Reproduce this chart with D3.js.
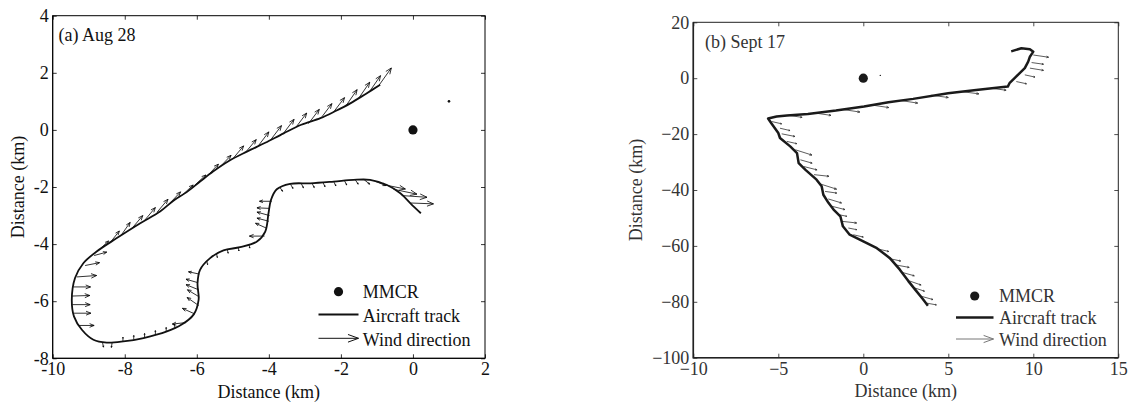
<!DOCTYPE html>
<html>
<head>
<meta charset="utf-8">
<script src="https://cdn.jsdelivr.net/npm/d3@7"></script>
<style>
  body { margin: 0; background: #fff; }
  svg text { font-family: "Liberation Serif", "Times New Roman", Times, "DejaVu Serif", serif; }
</style>
</head>
<body>
<svg id="chart" width="1130" height="407"></svg>
<script>
// ---- data (km, relative to the MMCR site) ----

// (a) Aug 28 aircraft track
var trackA = [[-0.91,1.58],[-1.3,1.27],[-1.74,0.93],[-2.15,0.66],[-2.57,0.41],[-3.1,0.18],[-3.59,-0.12],
  [-4.1,-0.45],[-4.61,-0.76],[-5.1,-1.08],[-5.54,-1.45],[-5.9,-1.8],[-6.28,-2.18],[-6.65,-2.48],
  [-7.02,-2.86],[-7.57,-3.27],[-8.22,-3.79],[-8.78,-4.26],[-9.15,-4.67],[-9.38,-5.19],[-9.47,-5.95],
  [-9.41,-6.53],[-9.19,-7.0],[-8.87,-7.35],[-8.5,-7.45],[-8.04,-7.41],[-7.48,-7.29],[-6.83,-7.06],
  [-6.42,-6.82],[-6.09,-6.47],[-5.95,-5.95],[-5.98,-5.37],[-5.91,-4.9],[-5.63,-4.49],[-5.26,-4.22],
  [-4.8,-4.11],[-4.33,-3.91],[-4.1,-3.56],[-4.01,-2.92],[-3.94,-2.45],[-3.78,-2.08],[-3.41,-1.89],
  [-2.85,-1.87],[-2.2,-1.81],[-1.65,-1.75],[-1.19,-1.75],[-0.72,-1.93],[-0.35,-2.22],[-0.07,-2.57],[0.22,-2.92]];

// (a) wind vectors: x, y, u, v
var windA = [[-0.95,1.55,0.35,0.62],[-1.2,1.35,0.3,0.55],[-1.5,1.12,0.3,0.55],[-1.85,0.86,0.3,0.55],
  [-2.2,0.63,0.3,0.5],[-2.55,0.42,0.3,0.5],[-2.9,0.22,0.3,0.5],[-3.25,0.09,0.3,0.5],[-3.6,-0.13,0.3,0.5],
  [-3.95,-0.35,0.3,0.5],[-4.3,-0.57,0.3,0.5],[-4.65,-0.79,0.3,0.45],[-5.0,-1.01,0.3,0.45],[-5.35,-1.29,0.3,0.4],
  [-5.7,-1.6,0.3,0.4],[-6.05,-1.93,0.3,0.35],[-6.4,-2.28,0.3,0.35],[-6.75,-2.57,0.3,0.4],[-7.1,-2.88,0.3,0.45],
  [-7.45,-3.17,0.3,0.45],[-7.8,-3.45,0.3,0.45],[-8.1,-3.69,0.25,0.45],[-8.4,-3.94,0.25,0.4],[-8.7,-4.19,0.25,0.3],
  [-8.85,-4.4,0.35,0.12],[-9.1,-4.75,0.4,0.1],[-9.33,-5.15,0.55,0.05],[-9.43,-5.5,0.48,0.0],[-9.47,-5.82,0.5,0.02],
  [-9.46,-6.12,0.5,0.0],[-9.42,-6.42,0.48,0.0],[-9.3,-6.85,0.45,0.0],
  [-8.62,-7.43,0.03,-0.18],[-8.35,-7.44,-0.02,-0.18],[-8.05,-7.41,0.0,0.15],[-7.75,-7.35,0.0,0.15],
  [-7.45,-7.28,0.0,0.15],[-7.15,-7.18,0.0,0.15],[-6.85,-7.07,0.0,0.15],[-6.6,-6.95,-0.03,0.15],
  [-6.3,-6.75,-0.38,-0.05],[-6.05,-6.45,-0.35,0.2],[-5.95,-6.15,-0.32,0.28],[-5.93,-5.85,-0.33,0.25],
  [-5.95,-5.6,-0.35,0.18],[-5.97,-5.35,-0.33,0.12],[-5.93,-5.05,-0.3,0.08],
  [-5.72,-4.6,0.02,-0.12],[-5.45,-4.35,0.02,-0.12],[-5.15,-4.2,0.02,-0.12],[-4.85,-4.12,0.02,-0.12],[-4.55,-4.02,0.02,-0.12],
  [-4.12,-3.72,-0.42,0.0],[-4.05,-3.45,-0.32,0.18],[-4.0,-3.2,-0.33,0.11],[-3.98,-3.0,-0.35,0.12],
  [-3.97,-2.75,-0.36,0.02],[-3.92,-2.5,-0.34,0.0],
  [-3.7,-2.0,0.08,-0.15],[-3.4,-1.9,0.07,-0.15],[-3.1,-1.88,0.06,-0.15],[-2.8,-1.87,0.06,-0.15],
  [-2.5,-1.84,0.06,-0.15],[-2.2,-1.81,0.06,-0.15],[-1.9,-1.78,0.06,-0.15],[-1.6,-1.75,0.08,-0.15],
  [-1.35,-1.75,0.15,-0.15],[-1.05,-1.8,0.3,-0.15],[-0.81,-1.92,0.6,-0.15],[-0.54,-2.08,0.65,-0.17],
  [-0.31,-2.3,0.7,-0.06],[-0.07,-2.56,0.64,-0.03]];

// (b) Sept 17 aircraft track
var trackB = [[8.7,9.6],[9.3,10.7],[9.8,10.4],[10.0,9.5],[9.8,7.7],[9.7,5.9],[9.5,3.6],[9.2,1.8],[8.9,0.0],
  [8.6,-1.8],[8.5,-3.0],[6.64,-4.18],[4.99,-5.37],[2.93,-7.4],[1.48,-8.59],[0.04,-10.14],[-1.61,-11.58],
  [-3.26,-12.77],[-4.49,-13.37],[-5.1,-13.7],[-5.6,-14.4],[-5.4,-16.2],[-5.0,-19.6],[-4.9,-21.4],[-4.3,-24.4],
  [-3.9,-26.8],[-3.8,-30.4],[-3.4,-32.8],[-2.75,-36.3],[-2.45,-38.7],[-2.35,-41.7],[-2.05,-44.6],[-1.75,-47.0],
  [-1.35,-49.4],[-1.2,-53.0],[-0.8,-56.0],[0.0,-58.4],[0.8,-60.8],[1.55,-64.3],[2.15,-68.5],[2.65,-72.6],
  [3.1,-76.0],[3.5,-79.0],[3.8,-81.4]];

// (b) wind vectors: x, y, u, v
var windB = [[10.0,8.3,0.9,-0.8],[9.9,5.6,0.7,-0.6],[9.8,3.6,0.8,-0.8],[9.5,1.2,0.6,-0.8],[9.0,-1.2,0.6,-0.8],
  [7.5,-3.6,0.9,-0.7],[5.8,-4.8,1.0,-0.8],[4.0,-6.1,1.0,-0.8],[2.2,-8.0,1.0,-0.9],[0.5,-9.6,1.0,-0.9],
  [-1.2,-11.2,1.0,-0.9],[-2.8,-12.5,0.9,-0.8],[-4.4,-13.3,0.8,-0.7],
  [-5.39,-15.5,0.59,-0.83],[-4.9,-17.9,0.59,-0.83],[-4.8,-19.9,0.78,-0.95],[-4.5,-22.6,0.59,-0.83],
  [-4.0,-25.6,0.98,-1.9],[-3.7,-29.2,0.69,-1.2],[-3.5,-31.6,0.78,-1.2],[-2.9,-34.5,0.88,-0.6],
  [-2.55,-37.8,0.98,-1.9],[-2.25,-40.5,0.69,-0.6],[-2.06,-43.2,0.78,-1.43],[-1.86,-45.8,0.78,-1.2],
  [-1.47,-48.8,0.5,-0.6],[-1.27,-51.2,0.88,-0.6],[-0.88,-53.6,0.5,-0.6],[-0.59,-56.0,0.59,-0.83],
  [0.8,-61.0,0.7,-1.0],[1.5,-64.5,0.7,-0.9],[1.9,-66.8,0.8,-0.9],[2.3,-69.5,0.7,-1.2],
  [2.7,-72.5,0.7,-1.5],[3.0,-75.0,0.6,-1.2],[3.4,-78.0,0.7,-1.2],[3.75,-80.5,0.55,-0.6]];

var mmcrSite = [0, 0];
var strayPoint = [1, 1];

var ticksAx = [-10, -8, -6, -4, -2, 0, 2];
var ticksAy = [-8, -6, -4, -2, 0, 2, 4];
var ticksBx = [-10, -5, 0, 5, 10, 15];
var ticksBy = [-100, -80, -60, -40, -20, 0, 20];

var legendLabels = ["MMCR", "Aircraft track", "Wind direction"];

var serif = '"Liberation Serif", "Times New Roman", Times, "DejaVu Serif", serif';

// ---- drawing ----
var svg = d3.select("#chart").attr("font-family", serif);

function arrowPath(x0, y0, x1, y1, frac, ang) {
	var p = d3.path();
	var dx = x1 - x0, dy = y1 - y0, L = Math.hypot(dx, dy);
	p.moveTo(x0, y0);
	p.lineTo(x1, y1);
	if (L > 0.5) {
		var h = L * frac, a = Math.atan2(dy, dx), t = ang * Math.PI / 180;
		p.moveTo(x1 - h * Math.cos(a - t), y1 - h * Math.sin(a - t));
		p.lineTo(x1, y1);
		p.lineTo(x1 - h * Math.cos(a + t), y1 - h * Math.sin(a + t));
	}
	return p.toString();
}

function drawPanel(o) {
	var x = d3.scaleLinear().domain(o.xDomain).range(o.xRange);
	var y = d3.scaleLinear().domain(o.yDomain).range(o.yRange);
	var g = svg.append("g");
	var fmt = o.fmt;

	// inward ticks on all four sides
	g.append("g").attr("transform", "translate(0," + o.yRange[0] + ")")
		.call(d3.axisBottom(x).tickValues(o.xTicks).tickSize(-4).tickPadding(o.xPad).tickFormat(fmt));
	g.append("g").attr("transform", "translate(" + o.xRange[0] + ",0)")
		.call(d3.axisLeft(y).tickValues(o.yTicks).tickSize(-4).tickPadding(4).tickFormat(fmt));
	g.append("g").attr("transform", "translate(0," + o.yRange[1] + ")")
		.call(d3.axisTop(x).tickValues(o.xTicks).tickSize(-4).tickFormat(""));
	g.append("g").attr("transform", "translate(" + o.xRange[1] + ",0)")
		.call(d3.axisRight(y).tickValues(o.yTicks).tickSize(-4).tickFormat(""));
	g.selectAll(".domain").remove();
	g.selectAll("g").attr("font-family", serif).attr("font-size", 18);
	g.selectAll(".tick line").attr("stroke", o.ink).attr("stroke-width", 0.8);
	g.selectAll(".tick text").attr("fill", o.textColor);

	// frame
	g.append("rect").attr("x", o.xRange[0]).attr("y", o.yRange[1])
		.attr("width", o.xRange[1] - o.xRange[0]).attr("height", o.yRange[0] - o.yRange[1])
		.attr("fill", "none").attr("stroke", o.ink).attr("stroke-width", 1);
	g.append("path")
		.attr("d", "M" + o.xRange[0] + "," + o.yRange[1] + "V" + o.yRange[0] + "H" + o.xRange[1])
		.attr("fill", "none").attr("stroke", o.ink).attr("stroke-width", o.frameW);

	// wind vectors
	g.append("g").selectAll("path").data(o.wind).join("path")
		.attr("d", function(d) {
			return arrowPath(x(d[0]), y(d[1]), x(d[0] + d[2]), y(d[1] + d[3]), o.headFrac, 22);
		})
		.attr("fill", "none").attr("stroke", o.windColor).attr("stroke-width", 0.8);

	// aircraft track
	g.append("path").datum(o.track)
		.attr("d", d3.line().x(function(d) { return x(d[0]); }).y(function(d) { return y(d[1]); }).curve(o.curve))
		.attr("fill", "none").attr("stroke", o.trackColor).attr("stroke-width", o.trackW)
		.attr("stroke-linejoin", "round");

	// MMCR and the stray point
	g.append("circle").attr("cx", x(mmcrSite[0])).attr("cy", y(mmcrSite[1])).attr("r", 4.6).attr("fill", o.trackColor);
	g.append("circle").attr("cx", x(strayPoint[0])).attr("cy", y(strayPoint[1])).attr("r", o.strayR).attr("fill", o.trackColor);

	// texts
	g.append("text").attr("x", o.titleX).attr("y", o.titleY).attr("fill", o.textColor)
		.attr("font-size", 18).text(o.title);
	g.append("text").attr("x", (o.xRange[0] + o.xRange[1]) / 2).attr("y", o.xLabelY)
		.attr("text-anchor", "middle").attr("fill", o.textColor).attr("font-size", 18).text("Distance (km)");
	g.append("text").attr("transform", "translate(" + o.yLabelX + "," + (o.yRange[0] + o.yRange[1]) / 2 + ") rotate(-90)")
		.attr("text-anchor", "middle").attr("fill", o.textColor).attr("font-size", 18).text("Distance (km)");

	// legend
	var L = o.legend;
	g.append("circle").attr("cx", L.dotX).attr("cy", L.dotY).attr("r", 4.6).attr("fill", o.trackColor);
	g.append("line").attr("x1", L.x0).attr("x2", L.x1).attr("y1", L.lineY).attr("y2", L.lineY)
		.attr("stroke", o.trackColor).attr("stroke-width", o.trackW);
	g.append("path").attr("d", arrowPath(L.x0, L.arrowY, L.x1, L.arrowY, 0.28, 20))
		.attr("fill", "none").attr("stroke", L.arrowColor).attr("stroke-width", 1);
	g.selectAll(".leg").data(legendLabels).join("text")
		.attr("x", L.textX).attr("y", function(d, i) { return L.base[i]; })
		.attr("fill", o.textColor).attr("font-size", 18).text(function(d) { return d; });
}

drawPanel({
	xDomain: [-10, 2], xRange: [52.7, 485],
	yDomain: [-8, 4], yRange: [358.3, 15.7],
	xTicks: ticksAx, yTicks: ticksAy, xPad: 4,
	fmt: function(d) { return String(d); },
	ink: "#000", textColor: "#111", windColor: "#000", trackColor: "#111",
	frameW: 1, trackW: 1.8, headFrac: 0.3, strayR: 1.3,
	curve: d3.curveCatmullRom,
	wind: windA, track: trackA,
	title: "(a) Aug 28", titleX: 58.5, titleY: 40.5,
	xLabelY: 398, yLabelX: 24,
	legend: { dotX: 338.5, dotY: 291.7, x0: 318.5, x1: 358.5, lineY: 314.5, arrowY: 338.3,
		textX: 362.7, base: [297.5, 321.5, 345.5], arrowColor: "#111" }
});

drawPanel({
	xDomain: [-10, 15], xRange: [693.3, 1118.3],
	yDomain: [-100, 20], yRange: [357.7, 22.3],
	xTicks: ticksBx, yTicks: ticksBy, xPad: 5,
	fmt: function(d) { return (d < 0 ? "\u2212" : "") + Math.abs(d); },
	ink: "#222", textColor: "#333", windColor: "#333", trackColor: "#1a1a1a",
	frameW: 1.6, trackW: 2.5, headFrac: 0.15, strayR: 0.7,
	curve: d3.curveLinear,
	wind: windB, track: trackB,
	title: "(b) Sept 17", titleX: 705, titleY: 48.3,
	xLabelY: 397, yLabelX: 642,
	legend: { dotX: 974.7, dotY: 296, x0: 956, x1: 993.5, lineY: 317.5, arrowY: 339,
		textX: 999, base: [302, 324, 345.5], arrowColor: "#777" }
});
</script>
</body>
</html>
